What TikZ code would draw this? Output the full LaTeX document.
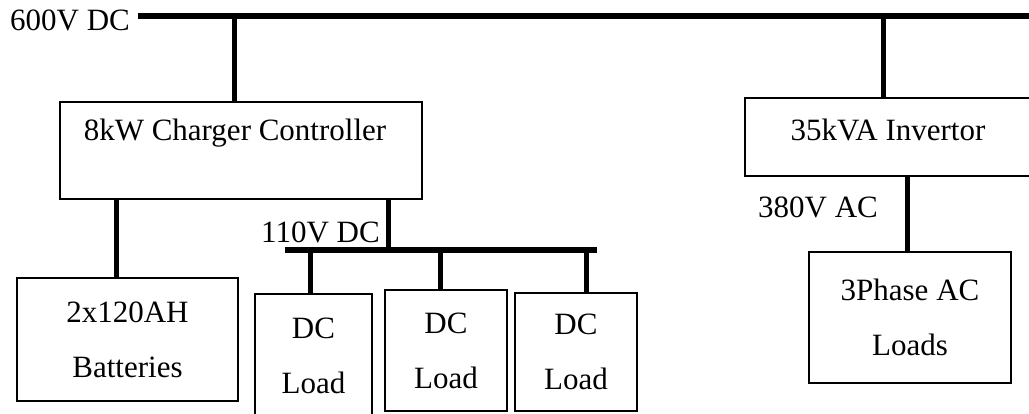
\documentclass[tikz,border=0pt]{standalone}
\usepackage{fontspec}
\setmainfont{Liberation Serif}
\usetikzlibrary{positioning}
\tikzset{
  % --- Thiet bi ---------------------------------------------
  devbox/.style={draw, line width=1.3pt, fill=white, align=center,
    inner sep=0pt, font=\fontsize{31}{55}\selectfont},
  % --- Thanh cai / day dan ----------------------------------
  busbar/.style={line width=6pt},
  feeder/.style={line width=5pt},
  buslbl/.style={inner sep=0pt, font=\fontsize{31}{36}\selectfont}
}
\begin{document}
\begin{tikzpicture}[x=1pt, y=-1pt]
  \useasboundingbox (0,0) rectangle (1029,414);
  \clip (0,0) rectangle (1029,414);

  % --- Thanh cai 600V DC ---------------------------------------
  \node[buslbl, anchor=west] (L600) at (10,20) {600V DC};
  \coordinate (B600w) at (138,16);
  \coordinate (B600e) at (1040,16);
  \draw[busbar] (B600w) -- (B600e);

  % --- Hang 1: bo sac, bien tan --------------------------------
  \node[devbox, minimum width=362, minimum height=97,
    text height=22pt, text depth=42pt] (CC) at (241,150.5) {8kW Charger Controller\hspace*{12pt}};
  \node[devbox, minimum width=286, minimum height=78,
    text height=22pt, text depth=15pt] (INV) at (888,137) {35kVA Invertor};

  % --- Hang 2: ac quy, tai -------------------------------------
  \node[devbox, minimum width=221, minimum height=123] (BAT) at (127.5,339.5) {2x120AH\\Batteries};
  \node[devbox, minimum width=117, minimum height=124] (DL1) at (313.5,356) {DC\\Load};
  \node[devbox, minimum width=122, minimum height=121] (DL2) at (446,350.5) {DC\\Load};
  \node[devbox, minimum width=122, minimum height=118] (DL3) at (576,352) {DC\\Load};
  \node[devbox, minimum width=202, minimum height=131] (ACL) at (910,317.5) {3Phase AC\\Loads};

  % --- Thanh cai 110V DC ---------------------------------------
  \node[buslbl, anchor=west] (L110) at (261,232) {110V DC};
  \coordinate (B110w) at (285,250);
  \coordinate (B110e) at (597,250);
  \draw[busbar] (B110w) -- (B110e);

  \node[buslbl, anchor=west] (L380) at (758,207) {380V AC};

  % --- Day dan -------------------------------------------------
  \draw[feeder] ([xshift=-7pt]CC.north) -- ([xshift=-7pt]CC.north |- B600w);
  \draw[feeder] ([xshift=-5pt]INV.north) -- ([xshift=-5pt]INV.north |- B600w);
  \draw[feeder] ([xshift=-11.5pt]BAT.north) -- ([xshift=-11.5pt]BAT.north |- CC.south);
  \draw[feeder] ([xshift=147pt]CC.south) -- ([xshift=147pt]CC.south |- B110w);
  \draw[feeder] ([xshift=-3.5pt]DL1.north) -- ([xshift=-3.5pt]DL1.north |- B110w);
  \draw[feeder] ([xshift=-6pt]DL2.north) -- ([xshift=-6pt]DL2.north |- B110w);
  \draw[feeder] ([xshift=10pt]DL3.north) -- ([xshift=10pt]DL3.north |- B110w);
  \draw[feeder] ([xshift=-3pt]ACL.north) -- ([xshift=-3pt]ACL.north |- INV.south);

\end{tikzpicture}
\end{document}
